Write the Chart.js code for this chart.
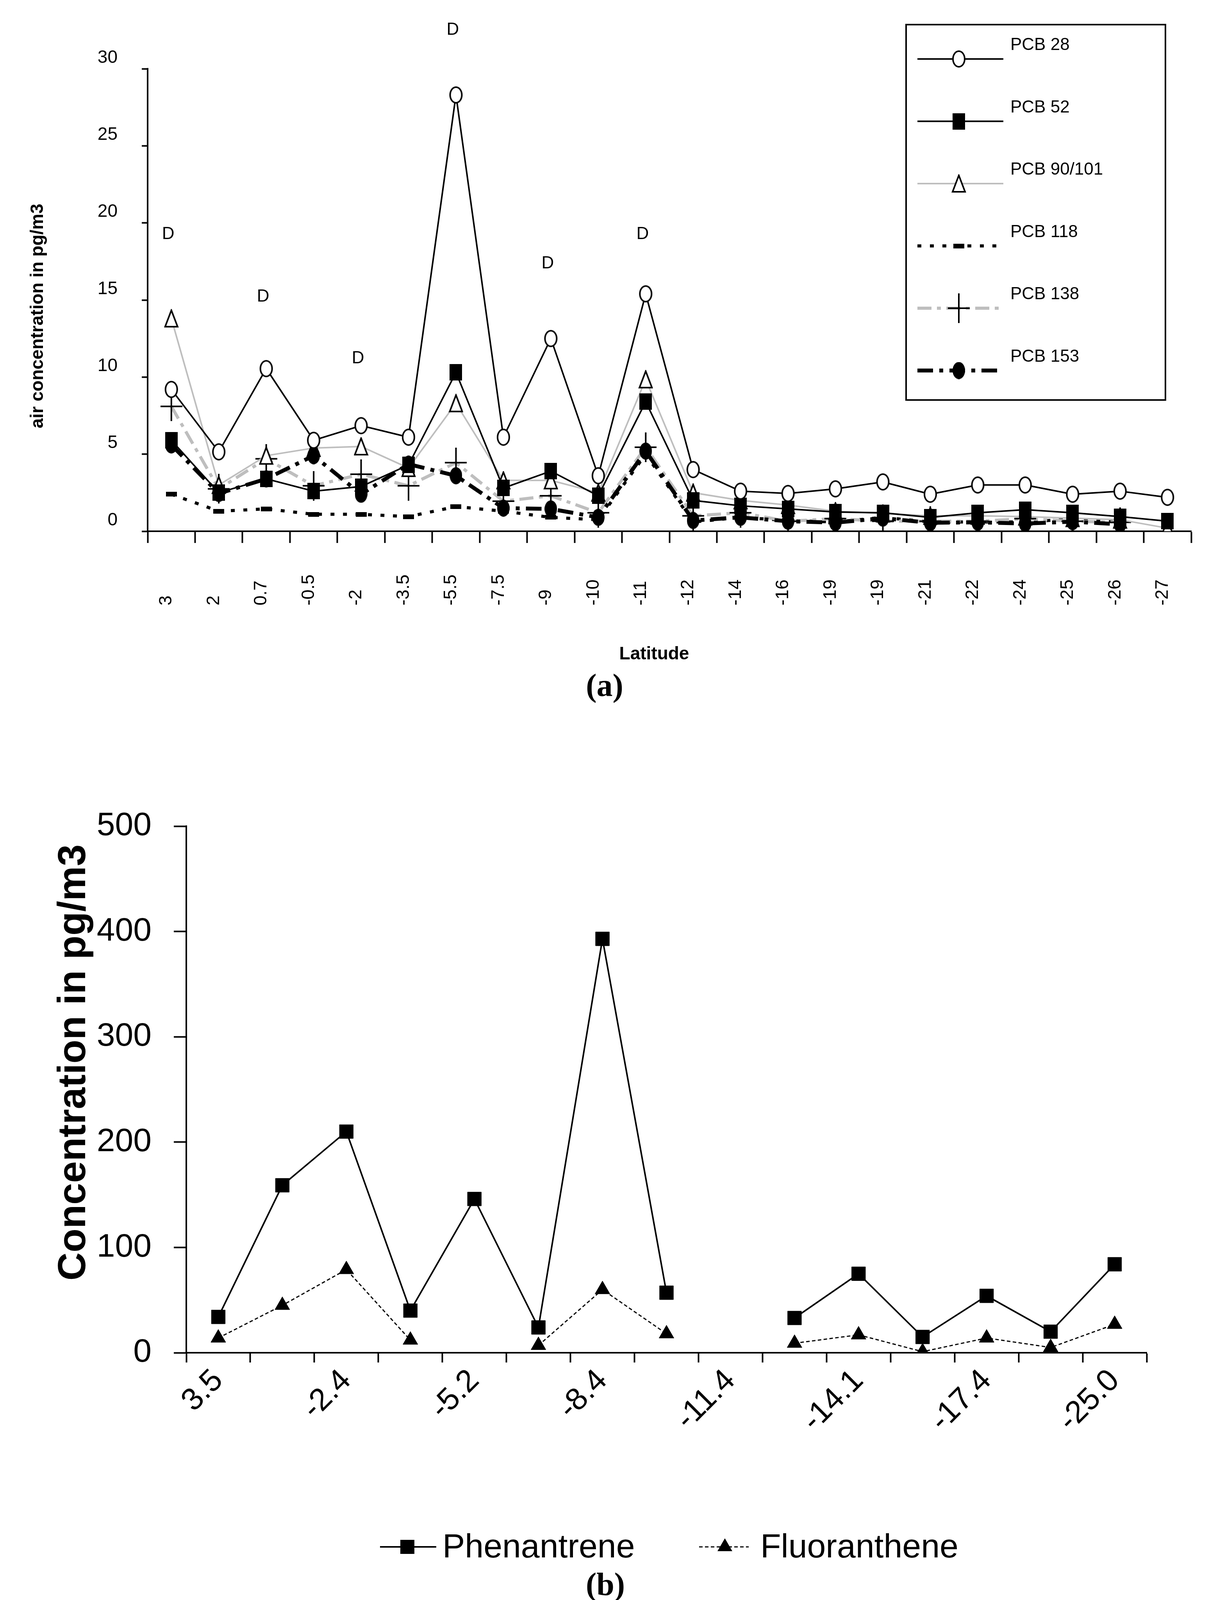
<!DOCTYPE html>
<html><head><meta charset="utf-8">
<script src="https://cdn.jsdelivr.net/npm/chart.js@4.4.1/dist/chart.umd.min.js"></script>
<style>
html,body{margin:0;padding:0;background:#fff;}
#wrapA{position:absolute;left:0;top:0;width:3093px;height:1850px;}
#wrapB{position:absolute;left:0;top:1850px;width:3093px;height:2282px;}
canvas{display:block;}
</style></head><body>
<div id="wrapA"><canvas id="chartA" width="3093" height="1850" style="width:3093px;height:1850px"></canvas></div>
<div id="wrapB"><canvas id="chartB" width="3093" height="2282" style="width:3093px;height:2282px"></canvas></div>
<script>
// ---------- DATA: panel (a) ----------
const latitudeA = ['3','2','0.7','-0.5','-2','-3.5','-5.5','-7.5','-9','-10','-11','-12','-14','-16','-19','-19','-21','-22','-24','-25','-26','-27'];
const pcb28  = [9.2, 5.15, 10.55, 5.9, 6.85, 6.1, 28.3, 6.1, 12.5, 3.6, 15.4, 4.0, 2.6, 2.45, 2.75, 3.2, 2.4, 3.0, 3.0, 2.4, 2.6, 2.2];
const pcb52  = [5.9, 2.5, 3.4, 2.6, 2.9, 4.3, 10.3, 2.8, 3.9, 2.3, 8.4, 2.0, 1.65, 1.45, 1.25, 1.2, 0.9, 1.2, 1.4, 1.2, 0.95, 0.65];
const pcb90  = [13.8, 3.0, 4.9, 5.4, 5.5, 4.1, 8.3, 3.3, 3.3, 2.5, 9.85, 2.5, 2.0, 1.7, 1.3, 1.15, 1.0, 1.0, 0.95, 0.85, 0.75, 0.2];
const pcb118 = [2.4, 1.3, 1.45, 1.1, 1.1, 0.95, 1.6, 1.3, 0.9, 0.75, 5.0, 0.6, 0.9, 0.7, 0.6, 0.9, 0.6, 0.6, 0.6, 0.8, 0.6, null];
const pcb138 = [8.1, 2.75, 4.7, 2.95, 3.7, 2.95, 4.45, 1.95, 2.3, 1.2, 5.45, 1.0, 1.2, 0.65, 0.82, 0.65, 0.65, 0.65, 0.82, 0.65, 0.58, null];
const pcb153 = [5.6, 2.45, 3.4, 4.9, 2.4, 4.35, 3.6, 1.5, 1.45, 0.9, 5.2, 0.7, 0.9, 0.65, 0.56, 0.85, 0.55, 0.58, 0.5, 0.62, 0.45, null];
const dIndex = [0, 2, 4, 6, 8, 10];
const dValue = [19.25, 15.2, 11.2, 32.5, 17.35, 19.25];
const yMaxA = 30, yStepA = 5;

// ---------- DATA: panel (b) ----------
const latitudeB = ['3.5','','-2.4','','-5.2','','-8.4','','-11.4','','-14.1','','-17.4','','-25.0'];
const phenantrene  = [34, 159, 210, 40, 146, 24, 393, 57, null, 33, 75, 15, 54, 20, 84];
const fluoranthene = [14, 45, 79, 12, null, 7, 60, 18, null, 9, 17, 1, 14, 5, 27];
const yMaxB = 500, yStepB = 100;

// ---------- STYLE ----------
const SANS = "'Liberation Sans', Arial, sans-serif";
const SERIF = "'Liberation Serif', 'Times New Roman', serif";
const GRAY = '#BEBEBE';

function marker(w, h, fn) { const c = document.createElement('canvas'); c.width = w; c.height = h; fn(c.getContext('2d'), w, h); return c; }
const mkOpenCircle = marker(36, 46, (g, w, h) => { g.beginPath(); g.ellipse(w/2, h/2, w/2-3, h/2-3, 0, 0, Math.PI*2); g.fillStyle = '#fff'; g.fill(); g.lineWidth = 4; g.strokeStyle = '#000'; g.stroke(); });
const mkSquare = marker(32, 42, (g, w, h) => { g.fillStyle = '#000'; g.fillRect(0, 0, w, h); });
const mkTriangle = marker(38, 48, (g, w, h) => { g.beginPath(); g.moveTo(w/2, 3); g.lineTo(w-3, h-3); g.lineTo(3, h-3); g.closePath(); g.fillStyle = '#fff'; g.fill(); g.lineWidth = 4; g.strokeStyle = '#000'; g.stroke(); });
const mkBar = marker(28, 12, (g, w, h) => { g.fillStyle = '#000'; g.fillRect(0, 0, w, h); });
const mkCross = marker(56, 76, (g, w, h) => { g.fillStyle = '#000'; g.fillRect(0, h/2-2, w, 4); g.fillRect(w/2-2, 0, 4, h); });
const mkDot = marker(32, 44, (g, w, h) => { g.beginPath(); g.ellipse(w/2, h/2, w/2, h/2, 0, 0, Math.PI*2); g.fillStyle = '#000'; g.fill(); });

const seriesA = [
  { label: 'PCB 28',     data: pcb28,  color: '#000', width: 4,  dash: [],              marker: mkOpenCircle, order: 1 },
  { label: 'PCB 52',     data: pcb52,  color: '#000', width: 4,  dash: [],              marker: mkSquare,     order: 2 },
  { label: 'PCB 90/101', data: pcb90,  color: GRAY,   width: 4,  dash: [],              marker: mkTriangle,   order: 3 },
  { label: 'PCB 118',    data: pcb118, color: '#000', width: 8,  dash: [10, 22],        marker: mkBar,        order: 5 },
  { label: 'PCB 138',    data: pcb138, color: GRAY,   width: 8,  dash: [36, 14, 10, 14], marker: mkCross,     order: 4 },
  { label: 'PCB 153',    data: pcb153, color: '#000', width: 10, dash: [40, 16, 10, 16], marker: mkDot,       order: 0 }
];

function rotText(ctx, text, x, y, align) {
  ctx.save(); ctx.translate(x, y); ctx.rotate(-Math.PI/2);
  ctx.textAlign = align; ctx.textBaseline = 'middle'; ctx.fillText(text, 0, 0); ctx.restore();
}

const textPluginA = {
  id: 'textA',
  afterDraw(chart) {
    const ctx = chart.ctx, xs = chart.scales.x, ys = chart.scales.y;
    ctx.save();
    ctx.fillStyle = '#000';
    ctx.font = `46px ${SANS}`;
    latitudeA.forEach((lab, i) => rotText(ctx, lab, xs.getPixelForValue(i) - 12, 1550, 'left'));
    ctx.font = `44px ${SANS}`; ctx.textAlign = 'center'; ctx.textBaseline = 'middle';
    dIndex.forEach((idx, k) => ctx.fillText('D', xs.getPixelForValue(idx) - 8, ys.getPixelForValue(dValue[k])));
    ctx.font = `bold 46px ${SANS}`;
    rotText(ctx, 'air concentration in pg/m3', 97, 809, 'center');
    ctx.textAlign = 'center'; ctx.textBaseline = 'middle';
    ctx.fillText('Latitude', 1675, 1675);
    ctx.font = `bold 82px ${SERIF}`;
    ctx.fillText('(a)', 1548, 1761);
    ctx.strokeStyle = '#000'; ctx.lineWidth = 4;
    ctx.strokeRect(2320, 63, 664, 961);
    seriesA.forEach((s, i) => {
      const ly = 151 + i * 159.5;
      ctx.save();
      ctx.strokeStyle = s.color; ctx.lineWidth = s.width; ctx.setLineDash(s.dash);
      ctx.beginPath(); ctx.moveTo(2349, ly); ctx.lineTo(2569, ly); ctx.stroke();
      ctx.restore();
      ctx.drawImage(s.marker, 2455 - s.marker.width/2, ly - s.marker.height/2);
      ctx.font = `44px ${SANS}`; ctx.textAlign = 'left'; ctx.textBaseline = 'middle'; ctx.fillStyle = '#000';
      ctx.fillText(s.label, 2587, ly - 35);
    });
    ctx.restore();
  }
};

new Chart(document.getElementById('chartA'), {
  type: 'line',
  data: {
    labels: latitudeA,
    datasets: seriesA.map(s => ({
      label: s.label, data: s.data, borderColor: s.color, backgroundColor: s.color,
      borderWidth: s.width, borderDash: s.dash, borderCapStyle: 'butt',
      pointStyle: s.marker, pointRadius: 16, pointHoverRadius: 16,
      order: s.order, spanGaps: false, tension: 0, fill: false
    }))
  },
  options: {
    responsive: false, animation: false, devicePixelRatio: 1, events: [],
    layout: { padding: { left: 0, right: 43, top: 176, bottom: 0 } },
    plugins: { legend: { display: false }, tooltip: { enabled: false } },
    scales: {
      x: {
        type: 'category', offset: true,
        grid: { display: true, offset: true, drawOnChartArea: false, drawTicks: true, tickLength: 30, tickWidth: 4, tickColor: '#000' },
        border: { display: true, color: '#000', width: 4 },
        ticks: { display: false },
        afterFit(s) { s.height = 490; }
      },
      y: {
        min: 0, max: yMaxA,
        ticks: { stepSize: yStepA, color: '#000', font: { family: SANS, size: 46 }, padding: 62, labelOffset: -28 },
        grid: { drawOnChartArea: false, tickLength: 15, tickWidth: 4, tickColor: '#000' },
        border: { display: true, color: '#000', width: 4 },
        afterFit(s) { s.width = 378; }
      }
    }
  },
  plugins: [textPluginA]
});

// ---------- panel (b) ----------
const textPluginB = {
  id: 'textB',
  afterDraw(chart) {
    const ctx = chart.ctx;
    ctx.save();
    ctx.fillStyle = '#000';
    ctx.font = `bold 100px ${SANS}`;
    rotText(ctx, 'Concentration in pg/m3', 190, 870, 'center');
    const ly = 2110;
    ctx.strokeStyle = '#000';
    ctx.lineWidth = 4; ctx.setLineDash([]);
    ctx.beginPath(); ctx.moveTo(973, ly); ctx.lineTo(1117, ly); ctx.stroke();
    ctx.fillRect(1043 - 18, ly - 18, 36, 36);
    ctx.lineWidth = 3; ctx.setLineDash([9, 6]);
    ctx.beginPath(); ctx.moveTo(1790, ly); ctx.lineTo(1917, ly); ctx.stroke();
    ctx.setLineDash([]);
    ctx.beginPath(); ctx.moveTo(1856, ly - 22); ctx.lineTo(1875, ly + 11); ctx.lineTo(1837, ly + 11); ctx.closePath(); ctx.fill();
    ctx.font = `86px ${SANS}`; ctx.textAlign = 'left'; ctx.textBaseline = 'middle';
    ctx.fillText('Phenantrene', 1133, ly + 3);
    ctx.fillText('Fluoranthene', 1947, ly + 3);
    ctx.font = `bold 82px ${SERIF}`; ctx.textAlign = 'center';
    ctx.fillText('(b)', 1550, 2212);
    ctx.restore();
  }
};

new Chart(document.getElementById('chartB'), {
  type: 'line',
  data: {
    labels: latitudeB,
    datasets: [
      { label: 'Phenantrene', data: phenantrene, borderColor: '#000', backgroundColor: '#000', borderWidth: 4,
        pointStyle: 'rect', pointRadius: 25, pointHoverRadius: 25, pointBackgroundColor: '#000', pointBorderColor: '#000', pointBorderWidth: 1,
        spanGaps: false, tension: 0, fill: false },
      { label: 'Fluoranthene', data: fluoranthene, borderColor: '#000', backgroundColor: '#000', borderWidth: 3, borderDash: [9, 6],
        pointStyle: 'triangle', pointRadius: 22, pointHoverRadius: 22, pointBackgroundColor: '#000', pointBorderColor: '#000', pointBorderWidth: 1,
        spanGaps: false, tension: 0, fill: false }
    ]
  },
  options: {
    responsive: false, animation: false, devicePixelRatio: 1, events: [],
    layout: { padding: { left: 0, right: 157, top: 265, bottom: 0 } },
    plugins: { legend: { display: false }, tooltip: { enabled: false } },
    scales: {
      x: {
        type: 'category', offset: true,
        grid: { display: true, offset: true, drawOnChartArea: false, drawTicks: true, tickLength: 25, tickWidth: 4, tickColor: '#000' },
        border: { display: true, color: '#000', width: 4 },
        ticks: { autoSkip: false, maxRotation: 45, minRotation: 45, color: '#000', font: { family: SANS, size: 80 }, padding: 0 },
        afterFit(s) { s.height = 669; }
      },
      y: {
        min: 0, max: yMaxB,
        ticks: { stepSize: yStepB, color: '#000', font: { family: SANS, size: 84 }, padding: 57 },
        grid: { drawOnChartArea: false, tickLength: 32, tickWidth: 4, tickColor: '#000' },
        border: { display: true, color: '#000', width: 4 },
        afterFit(s) { s.width = 477; }
      }
    }
  },
  plugins: [textPluginB]
});
</script>
</body></html>
